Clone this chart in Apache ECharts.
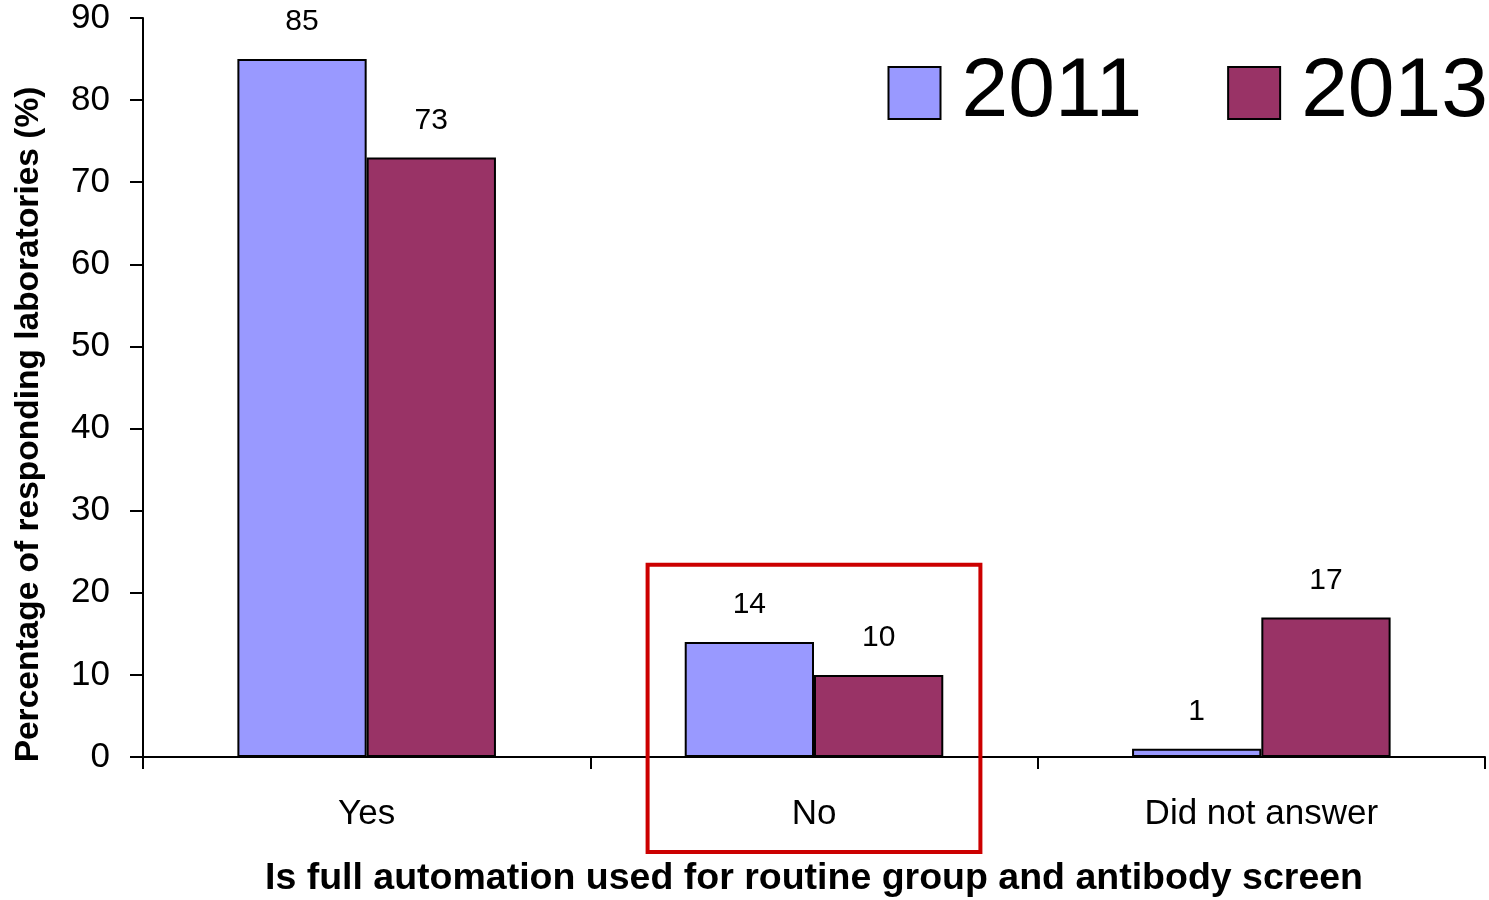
<!DOCTYPE html>
<html>
<head>
<meta charset="utf-8">
<script src="https://cdn.jsdelivr.net/npm/echarts@6/dist/echarts.min.js"></script>
<style>
  html, body { margin: 0; padding: 0; background: #fff; }
  #chart { width: 1489px; height: 900px; }
</style>
</head>
<body>
<div id="chart"></div>
<script>
// data
const categories = ['Yes', 'No', 'Did not answer'];
const seriesNames = ['2011', '2013'];
const values2011 = [85, 14, 1];
const values2013 = [73, 10, 17];
const yTicks = { min: 0, max: 90, interval: 10 };
const highlightCategory = 'No';

const FONT = '"Liberation Sans", Arial, sans-serif';
const colors = ['#9999ff', '#993366'];

const chart = echarts.init(document.getElementById('chart'), null, { renderer: 'canvas' });

const barLabel = {
  show: true,
  position: 'top',
  distance: 22,
  color: '#000',
  fontFamily: FONT,
  fontSize: 30,
};

const option = {
  animation: false,
  color: colors,
  grid: { left: 143, right: 4, top: 18, bottom: 143, containLabel: false, outerBoundsMode: 'none' },
  legend: {
    data: seriesNames,
    top: 46,
    right: -4,
    itemWidth: 52,
    itemHeight: 52,
    itemGap: 85,
    icon: 'rect',
    itemStyle: { borderColor: '#000', borderWidth: 2 },
    textStyle: { fontSize: 84, fontFamily: FONT, color: '#000', padding: [0, 0, 0, 16] },
  },
  xAxis: {
    type: 'category',
    data: categories,
    axisLine: { lineStyle: { color: '#000', width: 2 } },
    axisTick: { show: true, length: 12, lineStyle: { color: '#000', width: 2 } },
    axisLabel: { color: '#000', fontSize: 35, fontFamily: FONT, margin: 40 },
    name: 'Is full automation used for routine group and antibody screen',
    nameLocation: 'middle',
    nameGap: 103,
    nameTextStyle: { color: '#000', fontSize: 37.5, fontWeight: 'bold', fontFamily: FONT },
  },
  yAxis: {
    type: 'value',
    min: yTicks.min,
    max: yTicks.max,
    interval: yTicks.interval,
    splitLine: { show: false },
    axisLine: { show: true, lineStyle: { color: '#000', width: 2 } },
    axisTick: { show: true, length: 13, lineStyle: { color: '#000', width: 2 } },
    axisLabel: { color: '#000', fontSize: 35, fontFamily: FONT, margin: 33 },
    name: 'Percentage of responding laboratories (%)',
    nameLocation: 'middle',
    nameGap: 97,
    nameTextStyle: {
      color: '#000', fontSize: 33.5, fontWeight: 'bold', fontFamily: FONT,
      padding: [0, 74, 0, 0],
    },
  },
  series: [
    {
      name: seriesNames[0],
      type: 'bar',
      data: values2011,
      barGap: '0%',
      barCategoryGap: '42.2%',
      itemStyle: { color: colors[0], borderColor: '#000', borderWidth: 2 },
      label: barLabel,
    },
    {
      name: seriesNames[1],
      type: 'bar',
      data: values2013,
      itemStyle: { color: colors[1], borderColor: '#000', borderWidth: 2 },
      label: barLabel,
    },
  ],
};

chart.setOption(option);

// red highlight box around the "No" group, placed from the axis scales
function drawHighlight() {
  const idx = categories.indexOf(highlightCategory);
  const center = chart.convertToPixel({ xAxisIndex: 0 }, idx);
  const band = chart.convertToPixel({ xAxisIndex: 0 }, 1) - chart.convertToPixel({ xAxisIndex: 0 }, 0);
  const top = chart.convertToPixel({ yAxisIndex: 0 }, 23.4);
  const base = chart.convertToPixel({ yAxisIndex: 0 }, 0);
  const halfW = band * 0.372;
  chart.setOption({
    graphic: [{
      type: 'rect',
      z: 100,
      shape: { x: center - halfW, y: top, width: halfW * 2, height: base - top + 95 },
      style: { fill: 'none', stroke: '#cc0000', lineWidth: 4 },
    }],
  });
}
drawHighlight();
</script>
</body>
</html>
